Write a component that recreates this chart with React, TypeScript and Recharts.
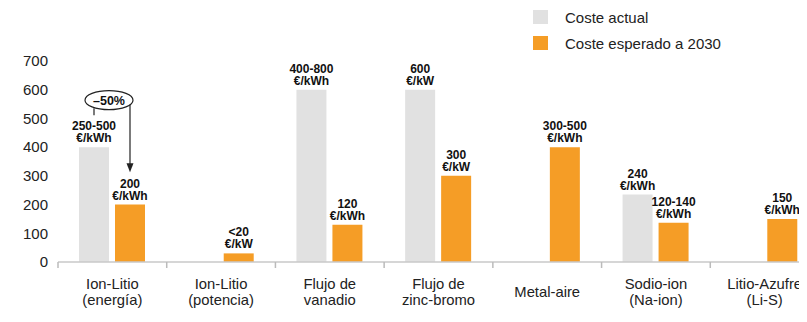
import { Bar, BarChart, LabelList, XAxis, YAxis } from "recharts";

const categories = [
  "Ion-Litio\n(energía)",
  "Ion-Litio\n(potencia)",
  "Flujo de\nvanadio",
  "Flujo de\nzinc-bromo",
  "Metal-aire",
  "Sodio-ion\n(Na-ion)",
  "Litio-Azufre\n(Li-S)",
];
const costeActual = [400, null, 600, 600, null, 235, null];
const coste2030 = [200, 30, 130, 300, 400, 137, 150];
const etiquetasActual = ["250-500\n€/kWh", null, "400-800\n€/kWh", "600\n€/kW", null, "240\n€/kWh", null];
const etiquetas2030 = ["200\n€/kWh", "<20\n€/kW", "120\n€/kWh", "300\n€/kW", "300-500\n€/kWh", "120-140\n€/kWh", "150\n€/kWh"];
const yTicks = [0, 100, 200, 300, 400, 500, 600, 700];

const data = categories.map((name, i) => ({
  name,
  actual: costeActual[i],
  esperado: coste2030[i],
  actualLabel: etiquetasActual[i],
  esperadoLabel: etiquetas2030[i],
}));

const GRAY = "#e1e1e1";
const ORANGE = "#f59d26";
const FONT = "'Liberation Sans', Arial, Helvetica, sans-serif";
const CHART_W = 811;
const Y_W = 50;
const BAND = (CHART_W - Y_W) / categories.length;

const BarText = ({ x, y, width, text }: any) => {
  if (!text) return null;
  const lines = String(text).split("\n");
  const cx = x + width / 2;
  return (
    <text textAnchor="middle" fontFamily={FONT} fontSize={12} fontWeight="bold" fill="#111">
      {lines.map((l, k) => (
        <tspan key={k} x={cx} y={y - 5 - (lines.length - 1 - k) * 12}>
          {l}
        </tspan>
      ))}
    </text>
  );
};

const ActualLabel = (props: any) => {
  const { x, y, width, value } = props;
  const label = <BarText x={x} y={y} width={width} text={value} />;
  if (value !== etiquetasActual[0]) return label;
  // -50% annotation between the two Ion-Litio bars
  const cx = x + width / 2;
  const ex = cx + 15;
  const ey = y - 47;
  const ax = cx + 36;
  const tip = y + 25;
  return (
    <g>
      {label}
      <line x1={cx} x2={cx} y1={y - 32} y2={ey + 8} stroke="#222" strokeWidth={1.2} />
      <ellipse cx={ex} cy={ey} rx={24} ry={9.5} fill="#fff" stroke="#222" strokeWidth={1.2} />
      <text x={ex} y={ey + 4.5} textAnchor="middle" fontFamily={FONT} fontSize={12.5} fontWeight="bold" fill="#111">
        –50%
      </text>
      <line x1={ax} x2={ax} y1={ey + 4.6} y2={tip - 8} stroke="#222" strokeWidth={1.2} />
      <path d={`M${ax - 3.5},${tip - 9} L${ax + 3.5},${tip - 9} L${ax},${tip} Z`} fill="#222" />
    </g>
  );
};

const EsperadoLabel = (props: any) => {
  const { x, y, width, value } = props;
  return <BarText x={x} y={y} width={width} text={value} />;
};

const CategoryTick = ({ x, y, payload }: any) => {
  const lines = String(payload.value).split("\n");
  const left = x - BAND / 2;
  return (
    <g>
      <line x1={left} x2={left} y1={y} y2={y + 6} stroke="#bbb" strokeWidth={1.5} />
      <text textAnchor="middle" fontFamily={FONT} fontSize={14.8} fill="#222">
        {lines.map((l, k) => (
          <tspan key={k} x={x} y={lines.length === 1 ? y + 35 : y + 27 + k * 16}>
            {l}
          </tspan>
        ))}
      </text>
    </g>
  );
};

const App = () => {
  return (
    <div style={{ position: "relative", width: 799, height: 306, overflow: "hidden" }}>
      <BarChart
        width={CHART_W}
        height={306}
        data={data}
        margin={{ top: 53, right: 0, bottom: 0, left: 0 }}
        barSize={30}
        barGap={6}
      >
        <XAxis
          dataKey="name"
          interval={0}
          height={52}
          tickSize={0}
          tickMargin={0}
          axisLine={{ stroke: "#c8c8c8", strokeWidth: 1.5 }}
          tickLine={false}
          tick={<CategoryTick />}
        />
        <YAxis
          width={Y_W}
          domain={[0, 700]}
          ticks={yTicks}
          axisLine={false}
          tickLine={false}
          tickSize={6}
          tickMargin={4}
          tick={{ fontFamily: FONT, fontSize: 15, fill: "#222" }}
        />
        <Bar dataKey="actual" fill={GRAY} isAnimationActive={false}>
          <LabelList dataKey="actualLabel" content={<ActualLabel />} />
        </Bar>
        <Bar dataKey="esperado" fill={ORANGE} isAnimationActive={false}>
          <LabelList dataKey="esperadoLabel" content={<EsperadoLabel />} />
        </Bar>
      </BarChart>
      <div style={{ position: "absolute", left: 525, top: 2, fontFamily: FONT, fontSize: 15, color: "#222" }}>
        <div style={{ display: "flex", alignItems: "center", height: 14 }}>
          <span style={{ display: "inline-block", width: 15, height: 14, background: GRAY, marginRight: 17 }} />
          Coste actual
        </div>
        <div style={{ display: "flex", alignItems: "center", height: 14, marginTop: 12 }}>
          <span style={{ display: "inline-block", width: 15, height: 14, background: ORANGE, marginRight: 17 }} />
          Coste esperado a 2030
        </div>
      </div>
    </div>
  );
};

export default App;
